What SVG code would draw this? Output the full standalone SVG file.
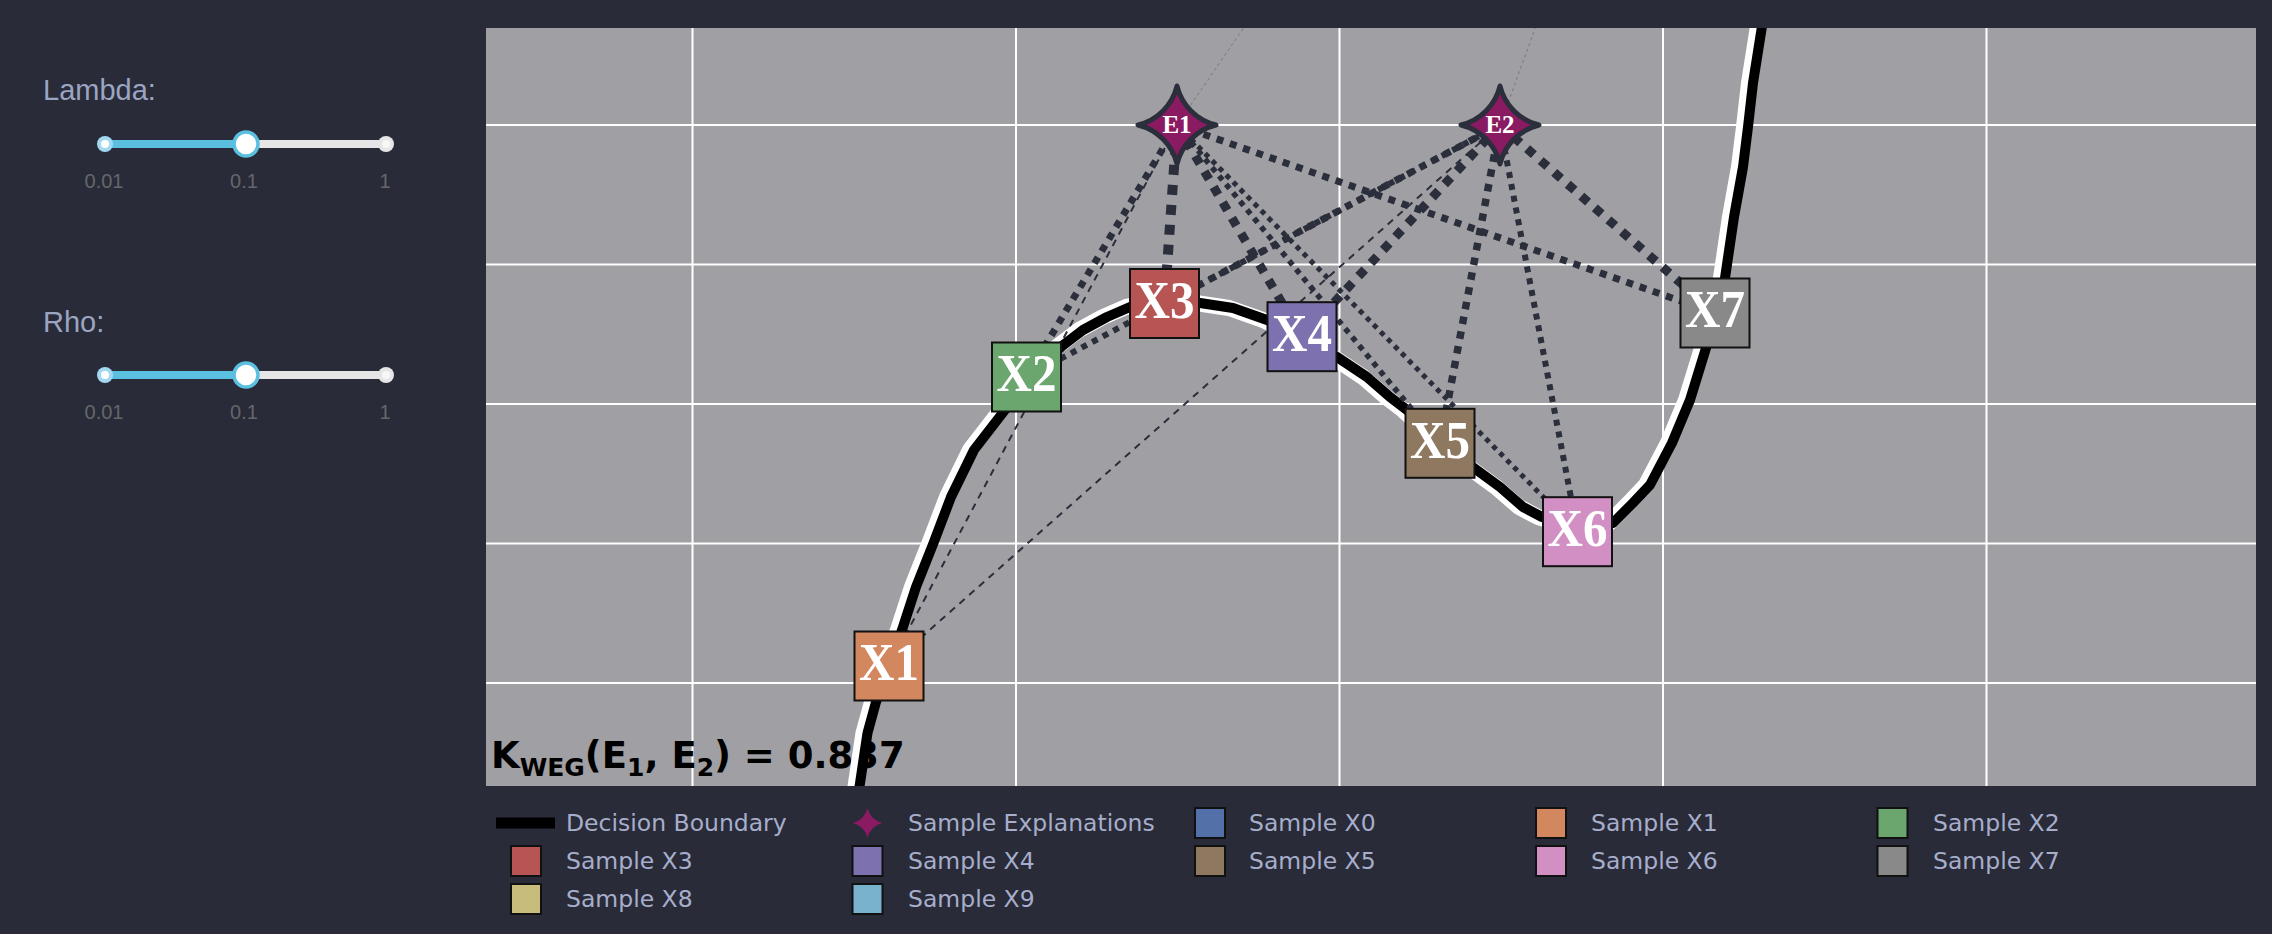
<svg xmlns="http://www.w3.org/2000/svg" width="2272" height="934" viewBox="0 0 2272 934">
<style>
.lbl{font-family:"Liberation Sans",Arial,sans-serif;font-size:29px;fill:#9ba5c3}
.tick{font-family:"Liberation Sans",Arial,sans-serif;font-size:20px;fill:#66666b;text-anchor:middle}
.grid{stroke:#ffffff;stroke-width:2}
.c{fill:none;stroke:#2b2e3b;stroke-linecap:butt}
.box{stroke:#111111;stroke-width:2}
.bx{font-family:"Liberation Serif","Times New Roman",serif;font-weight:bold;font-size:53px;fill:#ffffff;text-anchor:middle}
.ex{font-family:"Liberation Serif","Times New Roman",serif;font-weight:bold;font-size:25px;fill:#ffffff;text-anchor:middle}
.star{fill:#8a1a62;stroke:#2b2e3b;stroke-width:5;stroke-linejoin:round}
.lg{font-family:"DejaVu Sans",Verdana,sans-serif;font-size:23.5px;fill:#a7aecb}
.lbox{stroke:#111111;stroke-width:2}
</style>
<defs>
<clipPath id="plotclip"><rect x="486" y="28" width="1770" height="758"/></clipPath>
<path id="starE" d="M-39,0 A53,53 0 0 1 0,39 A53,53 0 0 1 39,0 A53,53 0 0 1 0,-39 A53,53 0 0 1 -39,0 Z"/>
</defs>
<rect x="0" y="0" width="2272" height="934" fill="#292b38"/>

<g id="lambda-slider">
<text class="lbl" x="43" y="100">Lambda:</text>
<line x1="105" y1="144" x2="386" y2="144" stroke="#e6e6e6" stroke-width="8" stroke-linecap="round"/>
<line x1="105" y1="144" x2="246" y2="144" stroke="#5bc0e0" stroke-width="8" stroke-linecap="round"/>
<circle cx="105" cy="144" r="8" fill="#a3d8f1"/><circle cx="105" cy="144" r="4" fill="#ffffff"/>
<circle cx="386" cy="144" r="8" fill="#e6e6e6"/><circle cx="386" cy="144" r="4" fill="#f7f7f7"/>
<circle cx="246" cy="144" r="12" fill="#ffffff" stroke="#5bc0e0" stroke-width="3.5"/>
<text class="tick" x="104" y="188">0.01</text>
<text class="tick" x="244" y="188">0.1</text>
<text class="tick" x="385" y="188">1</text>
</g>

<g id="rho-slider">
<text class="lbl" x="43" y="332">Rho:</text>
<line x1="105" y1="375" x2="386" y2="375" stroke="#e6e6e6" stroke-width="8" stroke-linecap="round"/>
<line x1="105" y1="375" x2="246" y2="375" stroke="#5bc0e0" stroke-width="8" stroke-linecap="round"/>
<circle cx="105" cy="375" r="8" fill="#a3d8f1"/><circle cx="105" cy="375" r="4" fill="#ffffff"/>
<circle cx="386" cy="375" r="8" fill="#e6e6e6"/><circle cx="386" cy="375" r="4" fill="#f7f7f7"/>
<circle cx="246" cy="375" r="12" fill="#ffffff" stroke="#5bc0e0" stroke-width="3.5"/>
<text class="tick" x="104" y="419">0.01</text>
<text class="tick" x="244" y="419">0.1</text>
<text class="tick" x="385" y="419">1</text>
</g>

<g id="plot-area">
<rect x="486" y="28" width="1770" height="758" fill="#a09fa4"/>
<g class="grid">
<line x1="692.5" y1="28" x2="692.5" y2="786"/>
<line x1="1016" y1="28" x2="1016" y2="786"/>
<line x1="1339.5" y1="28" x2="1339.5" y2="786"/>
<line x1="1663" y1="28" x2="1663" y2="786"/>
<line x1="1986.5" y1="28" x2="1986.5" y2="786"/>
<line x1="486" y1="125" x2="2256" y2="125"/>
<line x1="486" y1="264.5" x2="2256" y2="264.5"/>
<line x1="486" y1="404" x2="2256" y2="404"/>
<line x1="486" y1="543.5" x2="2256" y2="543.5"/>
<line x1="486" y1="683" x2="2256" y2="683"/>
</g>
</g>

<g id="kernel-label">
<text x="491" y="768" font-family="DejaVu Sans,Verdana,sans-serif" font-weight="bold" font-size="37" fill="#000000">K<tspan font-size="25" dy="8">WEG</tspan><tspan dy="-8">(E</tspan><tspan font-size="25" dy="8">1</tspan><tspan dy="-8">, E</tspan><tspan font-size="25" dy="8">2</tspan><tspan dy="-8">) = 0.837</tspan></text>
</g>

<g id="decision-boundary" clip-path="url(#plotclip)">
<polyline transform="translate(-4,0)" fill="none" stroke="#ffffff" stroke-width="16" stroke-linejoin="round" points="859,790 867.5,733 876,702 889,666 902,630 916,587 933.5,543 951,497 974,450 1005,410 1030,378 1062,346 1083,330 1107,317 1130,307 1164,301 1200,303 1233,308 1267,320 1302,336 1337,357 1367,377 1390,397 1407,410 1440,440 1474,468 1500,487 1523,507 1542,517 1577,527 1613,523 1633,503 1650,485 1672,443 1690,400 1706,348 1715,313 1725,278 1734,217 1743,167 1748,127 1753,83 1763,20"/>
<polyline fill="none" stroke="#000000" stroke-width="10" stroke-linejoin="round" points="859,790 867.5,733 876,702 889,666 902,630 916,587 933.5,543 951,497 974,450 1005,410 1030,378 1062,346 1083,330 1107,317 1130,307 1164,301 1200,303 1233,308 1267,320 1302,336 1337,357 1367,377 1390,397 1407,410 1440,440 1474,468 1500,487 1523,507 1542,517 1577,527 1613,523 1633,503 1650,485 1672,443 1690,400 1706,348 1715,313 1725,278 1734,217 1743,167 1748,127 1753,83 1763,20"/>
</g>

<g id="connectors" clip-path="url(#plotclip)">
<line class="c" x1="1177" y1="125" x2="1260" y2="4" stroke-width="1" stroke-dasharray="3 3" opacity="0.35"/>
<line class="c" x1="1500" y1="125" x2="1544" y2="4" stroke-width="1" stroke-dasharray="3 3" opacity="0.35"/>
<line class="c" x1="1177" y1="125" x2="889" y2="666" stroke-width="2" stroke-dasharray="7 6"/>
<line class="c" x1="1500" y1="125" x2="889" y2="666" stroke-width="2" stroke-dasharray="7 6"/>
<line class="c" x1="1177" y1="125" x2="1026.5" y2="377" stroke-width="7" stroke-dasharray="7 7"/>
<line class="c" x1="1177" y1="125" x2="1164.5" y2="303.5" stroke-width="10" stroke-dasharray="10 10"/>
<line class="c" x1="1177" y1="125" x2="1302" y2="336.7" stroke-width="9" stroke-dasharray="9 9"/>
<line class="c" x1="1177" y1="125" x2="1440" y2="443.3" stroke-width="5.5" stroke-dasharray="5.5 5.5"/>
<line class="c" x1="1177" y1="125" x2="1577.5" y2="531.7" stroke-width="5" stroke-dasharray="5 5"/>
<line class="c" x1="1177" y1="125" x2="1715" y2="313" stroke-width="7" stroke-dasharray="7 7"/>
<line class="c" x1="1500" y1="125" x2="1026.5" y2="377" stroke-width="6" stroke-dasharray="6 6"/>
<line class="c" x1="1500" y1="125" x2="1164.5" y2="303.5" stroke-width="7" stroke-dasharray="7 7"/>
<line class="c" x1="1500" y1="125" x2="1302" y2="336.7" stroke-width="9" stroke-dasharray="9 9"/>
<line class="c" x1="1500" y1="125" x2="1440" y2="443.3" stroke-width="7.5" stroke-dasharray="7.5 7.5"/>
<line class="c" x1="1500" y1="125" x2="1577.5" y2="531.7" stroke-width="6" stroke-dasharray="6 6"/>
<line class="c" x1="1500" y1="125" x2="1715" y2="313" stroke-width="9" stroke-dasharray="9 9"/>
</g>

<g id="node-X1"><rect class="box" x="854.5" y="631.5" width="69" height="69" fill="#d2875f"/><text class="bx" x="889" y="680" textLength="60" lengthAdjust="spacingAndGlyphs">X1</text></g>
<g id="node-X2"><rect class="box" x="992" y="342.5" width="69" height="69" fill="#6aa66e"/><text class="bx" x="1026.5" y="391" textLength="60" lengthAdjust="spacingAndGlyphs">X2</text></g>
<g id="node-X3"><rect class="box" x="1130" y="269" width="69" height="69" fill="#b75555"/><text class="bx" x="1164.5" y="317.5" textLength="60" lengthAdjust="spacingAndGlyphs">X3</text></g>
<g id="node-X4"><rect class="box" x="1267.5" y="302.2" width="69" height="69" fill="#7d71af"/><text class="bx" x="1302" y="351" textLength="60" lengthAdjust="spacingAndGlyphs">X4</text></g>
<g id="node-X5"><rect class="box" x="1405.5" y="408.8" width="69" height="69" fill="#8e7860"/><text class="bx" x="1440" y="457.5" textLength="60" lengthAdjust="spacingAndGlyphs">X5</text></g>
<g id="node-X6"><rect class="box" x="1543" y="497.2" width="69" height="69" fill="#d28fc3"/><text class="bx" x="1577.5" y="546" textLength="60" lengthAdjust="spacingAndGlyphs">X6</text></g>
<g id="node-X7"><rect class="box" x="1680.5" y="278.5" width="69" height="69" fill="#898989"/><text class="bx" x="1715" y="327" textLength="60" lengthAdjust="spacingAndGlyphs">X7</text></g>
<g id="node-E1"><use href="#starE" class="star" transform="translate(1177,125)"/><text class="ex" x="1177" y="133">E1</text></g>
<g id="node-E2"><use href="#starE" class="star" transform="translate(1500,125)"/><text class="ex" x="1500" y="133">E2</text></g>

<g id="legend">
<line x1="496" y1="823" x2="555" y2="823" stroke="#000000" stroke-width="11"/>
<text class="lg" x="566" y="831">Decision Boundary</text>
<path transform="translate(867.5,823) scale(0.38)" d="M-39,0 A53,53 0 0 1 0,39 A53,53 0 0 1 39,0 A53,53 0 0 1 0,-39 A53,53 0 0 1 -39,0 Z" fill="#8a1a62"/>
<text class="lg" x="908" y="831">Sample Explanations</text>
<rect class="lbox" x="1195" y="808" width="30" height="30" fill="#5370a8"/>
<text class="lg" x="1249" y="831">Sample X0</text>
<rect class="lbox" x="1536" y="808" width="30" height="30" fill="#d2875f"/>
<text class="lg" x="1591" y="831">Sample X1</text>
<rect class="lbox" x="1877.5" y="808" width="30" height="30" fill="#6aa66e"/>
<text class="lg" x="1933" y="831">Sample X2</text>

<rect class="lbox" x="511" y="846" width="30" height="30" fill="#b75555"/>
<text class="lg" x="566" y="869">Sample X3</text>
<rect class="lbox" x="852.5" y="846" width="30" height="30" fill="#7d71af"/>
<text class="lg" x="908" y="869">Sample X4</text>
<rect class="lbox" x="1195" y="846" width="30" height="30" fill="#8e7860"/>
<text class="lg" x="1249" y="869">Sample X5</text>
<rect class="lbox" x="1536" y="846" width="30" height="30" fill="#d28fc3"/>
<text class="lg" x="1591" y="869">Sample X6</text>
<rect class="lbox" x="1877.5" y="846" width="30" height="30" fill="#898989"/>
<text class="lg" x="1933" y="869">Sample X7</text>

<rect class="lbox" x="511" y="884" width="30" height="30" fill="#c8bc7d"/>
<text class="lg" x="566" y="907">Sample X8</text>
<rect class="lbox" x="852.5" y="884" width="30" height="30" fill="#78b2cd"/>
<text class="lg" x="908" y="907">Sample X9</text>
</g>
</svg>
